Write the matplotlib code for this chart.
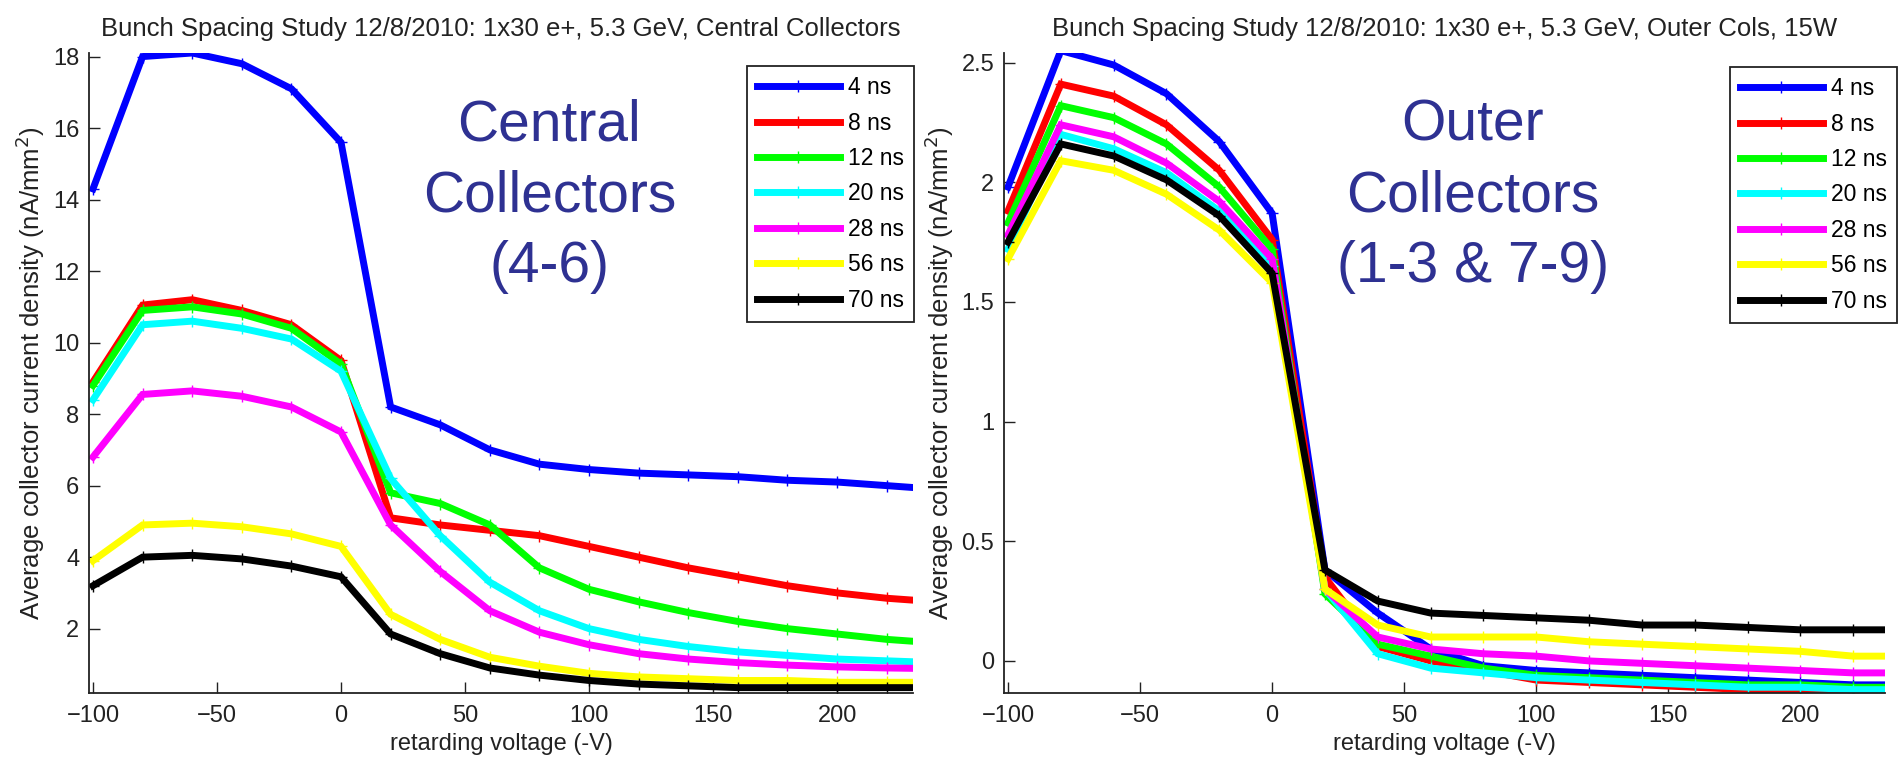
import matplotlib
matplotlib.use("Agg")
import matplotlib.pyplot as plt
from matplotlib import font_manager as fm
from matplotlib.ticker import FormatStrFormatter

names = {f.name for f in fm.fontManager.ttflist}
REG = 'Liberation Sans'
NARROW = 'Liberation Sans Narrow' if 'Liberation Sans Narrow' in names else 'Liberation Sans'
HAS_NARROW = NARROW != REG
plt.rcParams['font.family'] = [REG, 'DejaVu Sans']

# ---------------- data ----------------
labels = ['4 ns', '8 ns', '12 ns', '20 ns', '28 ns', '56 ns', '70 ns']
colors = ['#0000ff', '#ff0000', '#00ff00', '#00ffff', '#ff00ff', '#ffff00', '#000000']

volts = [-100, -80, -60, -40, -20, 0, 20, 40, 60, 80, 100, 120, 140, 160, 180, 200, 220, 240]

central_4 = [14.3, 18.0, 18.1, 17.8, 17.1, 15.6, 8.2, 7.7, 7.0, 6.6, 6.45, 6.35, 6.3, 6.25, 6.15, 6.1, 6.0, 5.9]
central_8 = [8.9, 11.05, 11.2, 10.9, 10.5, 9.5, 5.1, 4.9, 4.75, 4.6, 4.3, 4.0, 3.7, 3.45, 3.2, 3.0, 2.85, 2.75]
central_12 = [8.8, 10.9, 11.0, 10.8, 10.4, 9.4, 5.8, 5.5, 4.9, 3.7, 3.1, 2.75, 2.45, 2.2, 2.0, 1.85, 1.7, 1.6]
central_20 = [8.4, 10.5, 10.6, 10.4, 10.1, 9.2, 6.2, 4.6, 3.3, 2.5, 2.0, 1.7, 1.5, 1.35, 1.25, 1.15, 1.1, 1.05]
central_28 = [6.8, 8.55, 8.65, 8.5, 8.2, 7.5, 4.9, 3.6, 2.5, 1.9, 1.55, 1.3, 1.15, 1.05, 0.98, 0.93, 0.9, 0.88]
central_56 = [3.9, 4.9, 4.95, 4.85, 4.65, 4.3, 2.4, 1.7, 1.2, 0.95, 0.75, 0.65, 0.6, 0.55, 0.55, 0.5, 0.5, 0.5]
central_70 = [3.2, 4.0, 4.05, 3.95, 3.75, 3.45, 1.85, 1.3, 0.9, 0.7, 0.55, 0.45, 0.4, 0.35, 0.35, 0.35, 0.35, 0.35]

outer_4 = [1.98, 2.55, 2.49, 2.37, 2.17, 1.87, 0.38, 0.2, 0.05, -0.02, -0.04, -0.05, -0.06, -0.07, -0.08, -0.09, -0.1, -0.1]
outer_8 = [1.88, 2.41, 2.36, 2.24, 2.05, 1.76, 0.35, 0.06, 0.0, -0.04, -0.08, -0.09, -0.1, -0.11, -0.12, -0.12, -0.13, -0.14]
outer_12 = [1.83, 2.32, 2.27, 2.16, 1.98, 1.72, 0.28, 0.07, 0.02, -0.03, -0.06, -0.07, -0.08, -0.09, -0.1, -0.1, -0.11, -0.11]
outer_20 = [1.72, 2.20, 2.14, 2.04, 1.88, 1.65, 0.3, 0.03, -0.03, -0.05, -0.07, -0.08, -0.09, -0.1, -0.11, -0.11, -0.12, -0.12]
outer_28 = [1.78, 2.24, 2.19, 2.08, 1.92, 1.68, 0.3, 0.1, 0.05, 0.03, 0.02, 0.0, -0.01, -0.02, -0.03, -0.04, -0.05, -0.05]
outer_56 = [1.68, 2.09, 2.05, 1.95, 1.80, 1.58, 0.3, 0.15, 0.1, 0.1, 0.1, 0.08, 0.07, 0.06, 0.05, 0.04, 0.02, 0.02]
outer_70 = [1.75, 2.16, 2.11, 2.01, 1.86, 1.62, 0.38, 0.25, 0.2, 0.19, 0.18, 0.17, 0.15, 0.15, 0.14, 0.13, 0.13, 0.13]

central = [central_4, central_8, central_12, central_20, central_28, central_56, central_70]
outer = [outer_4, outer_8, outer_12, outer_20, outer_28, outer_56, outer_70]

titles = ['Bunch Spacing Study 12/8/2010: 1x30 e+, 5.3 GeV, Central Collectors',
          'Bunch Spacing Study 12/8/2010: 1x30 e+, 5.3 GeV, Outer Cols, 15W']
notes = ['Central\nCollectors\n(4-6)', 'Outer\nCollectors\n(1-3 & 7-9)']
xlabel = 'retarding voltage (-V)'
ylabel = 'Average collector current density (nA/mm$^2$)'
xticks = [-100, -50, 0, 50, 100, 150, 200]
yticks_c = [2, 4, 6, 8, 10, 12, 14, 16, 18]
yticks_o = [0, 0.5, 1, 1.5, 2, 2.5]

# ---------------- figure ----------------
W, H = 1902, 760
fig = plt.figure(figsize=(W / 100, H / 100), dpi=100)

def px_rect(x0, y0, x1, y1):
    return [x0 / W, 1 - y1 / H, (x1 - x0) / W, (y1 - y0) / H]

ax1 = fig.add_axes(px_rect(89, 53, 913, 693))
ax2 = fig.add_axes(px_rect(1004, 53, 1885, 693))

note_col = '#2e3192'
note_size = 48 if HAS_NARROW else 41
note_ls = 1.15 if HAS_NARROW else 1.4
title_size = 21 if HAS_NARROW else 18.5
setups = [
    (ax1, central, titles[0], notes[0], (-101.6, 230.6), (0.2, 18.1), yticks_c, (84, 14.1), (914, 66)),
    (ax2, outer, titles[1], notes[1], (-101.5, 232), (-0.134, 2.54), yticks_o, (76, 1.94), (1897, 67)),
]

for ax, series, title, note, xl, yl, yt, npos, legpos in setups:
    for vals, c, lab in zip(series, colors, labels):
        ax.plot(volts, vals, color=c, lw=5, label=lab, marker='+', ms=8, mew=1,
                solid_joinstyle='miter')
    ax.set_xlim(*xl)
    ax.set_ylim(*yl)
    ax.set_xticks(xticks)
    ax.set_yticks(yt)
    ax.yaxis.set_major_formatter(FormatStrFormatter('%g'))
    for s in ('top', 'right'):
        ax.spines[s].set_visible(False)
    for s in ('left', 'bottom'):
        ax.spines[s].set_linewidth(1.3)
        ax.spines[s].set_color('#222222')
    ax.tick_params(direction='in', length=8, width=1, labelsize=17, pad=9,
                   colors='#222222', labelcolor='#222222')
    ax.tick_params(axis='y', pad=7)
    ax.set_xlabel(xlabel, fontsize=17, color='#222222', labelpad=4)
    ax.set_ylabel(ylabel, fontsize=18.5, color='#222222', labelpad=4)
    ax.set_title(title, fontsize=title_size, color='#222222', pad=12, family=[NARROW, 'DejaVu Sans'])
    ax.text(npos[0], npos[1], note, color=note_col, fontsize=note_size, ha='center', va='center',
            multialignment='center', linespacing=note_ls, family=[NARROW, 'DejaVu Sans'])
    leg = ax.legend(loc='upper right', bbox_to_anchor=(legpos[0] / W, 1 - legpos[1] / H),
                    bbox_transform=fig.transFigure, borderaxespad=0, fancybox=False,
                    framealpha=1, edgecolor='#222222', fontsize=16.5, handlelength=3.6,
                    handletextpad=0.35, labelspacing=0.54, borderpad=0.45, numpoints=1)
    leg.get_frame().set_linewidth(1.3)
    for line in leg.get_lines():
        line.set_linewidth(5)

fig.savefig('out.png', dpi=100)
